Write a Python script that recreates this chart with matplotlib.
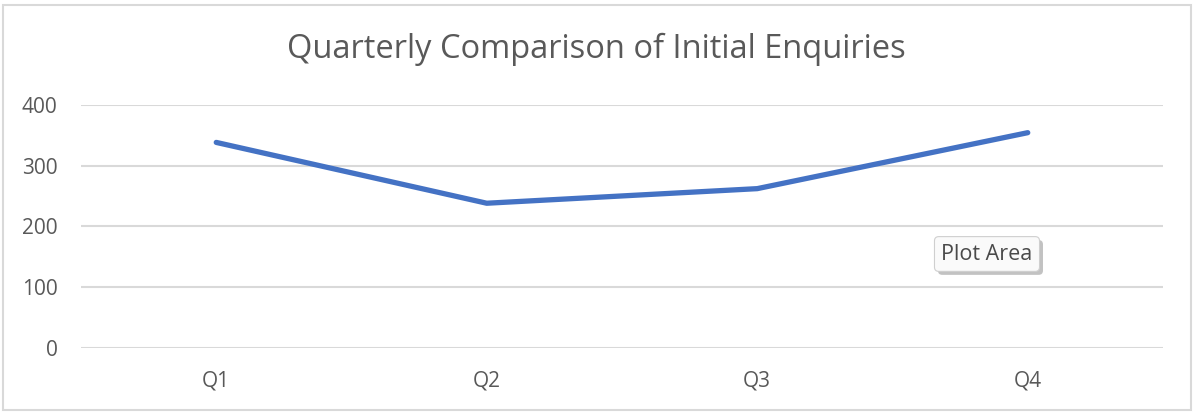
import matplotlib
matplotlib.use('Agg')
import matplotlib.pyplot as plt
import matplotlib.patheffects as pe
from matplotlib.patches import Rectangle

# quarterly enquiry counts
quarters = ['Q1', 'Q2', 'Q3', 'Q4']
enquiries = [338, 238, 262, 354]
yticks = [0, 100, 200, 300, 400]

text_grey = '#595959'
grid_grey = '#D9D9D9'
line_blue = '#4472C4'

plt.rcParams['font.family'] = ['Open Sans', 'DejaVu Sans']

W, H = 1193, 412
fig = plt.figure(figsize=(W / 100, H / 100), dpi=100)
fig.patch.set_facecolor('white')

# chart area frame
fig.patches.append(Rectangle((3 / W, 2 / H), 1188 / W, 405 / H, transform=fig.transFigure,
                             fill=False, edgecolor=grid_grey, linewidth=1.5))

ax = fig.add_axes([81 / W, (H - 348) / H, 1082 / W, (348 - 104.7) / H])
x = range(len(quarters))
ax.plot(x, enquiries, color=line_blue, linewidth=3.8, solid_capstyle='round',
        solid_joinstyle='round', zorder=3)

ax.set_xlim(-0.5, len(quarters) - 0.5)
ax.set_ylim(0, 400)
ax.set_xticks(list(x))
ax.set_xticklabels(quarters)
ax.set_yticks(yticks)
ax.tick_params(axis='both', length=0, labelsize=15, labelcolor=text_grey)
ax.tick_params(axis='x', pad=16)
ax.tick_params(axis='y', pad=17)
ax.grid(axis='y', color=grid_grey, linewidth=1.5)
ax.set_axisbelow(True)
for s in ax.spines.values():
    s.set_visible(False)

fig.text(0.5, (H - 49) / H, 'Quarterly Comparison of Initial Enquiries', ha='center',
         va='center', fontsize=23.5, color=text_grey)

# hover tooltip
tip = fig.text(987 / W, (H - 254) / H, 'Plot Area', ha='center', va='center', fontsize=15.5,
               color='#4A4A4A',
               bbox=dict(boxstyle='round,pad=0.32,rounding_size=0.2', fc='#FAFAFA',
                         ec='#CFCFCF', lw=0.8))
tip.get_bbox_patch().set_path_effects([pe.SimplePatchShadow(offset=(2.5, -2.5), shadow_rgbFace='#9A9A9A', alpha=0.6),
                                       pe.Normal()])

fig.savefig('out.png', dpi=100, facecolor='white')
